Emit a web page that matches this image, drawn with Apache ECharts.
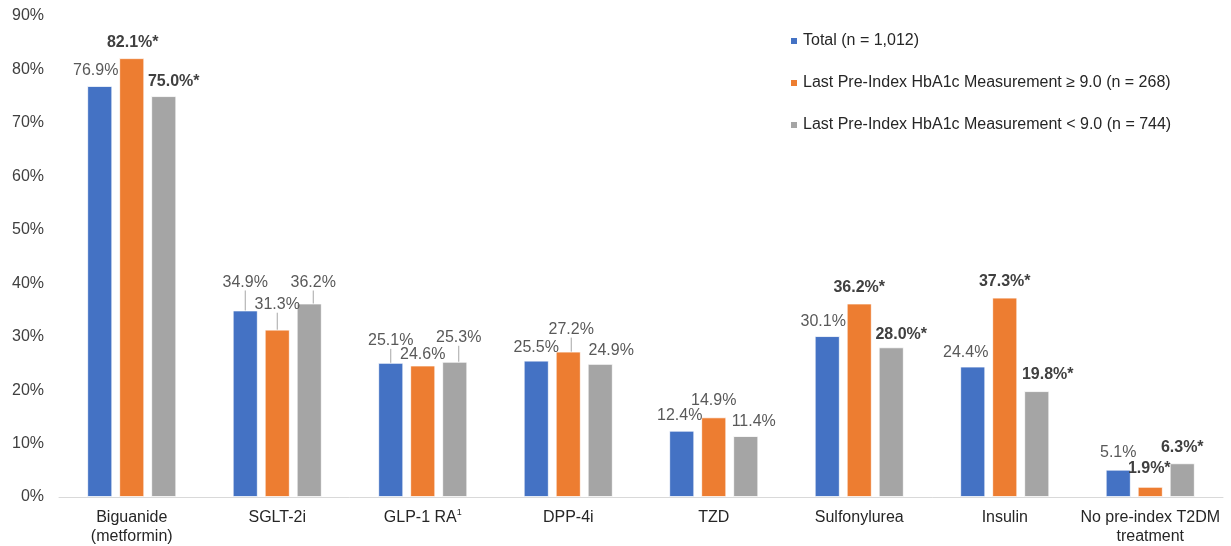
<!DOCTYPE html>
<html><head><meta charset="utf-8">
<script src="https://cdn.jsdelivr.net/npm/echarts@6/dist/echarts.min.js"></script>
<style>html,body{margin:0;padding:0;background:#fff}#c{width:1231px;height:546px}</style>
</head><body><div id="c"></div>
<script>
const categories = ['Biguanide\n(metformin)', 'SGLT-2i', 'GLP-1 RA', 'DPP-4i', 'TZD', 'Sulfonylurea', 'Insulin', 'No pre-index T2DM\ntreatment'];
const footnotes = ['', '', '1', '', '', '', '', ''];
const seriesNames = ['Total (n = 1,012)', 'Last Pre-Index HbA1c Measurement \u2265 9.0 (n = 268)', 'Last Pre-Index HbA1c Measurement < 9.0 (n = 744)'];
const totalValues = [76.9, 34.9, 25.1, 25.5, 12.4, 30.1, 24.4, 5.1];
const highValues = [82.1, 31.3, 24.6, 27.2, 14.9, 36.2, 37.3, 1.9];
const lowValues = [75.0, 36.2, 25.3, 24.9, 11.4, 28.0, 19.8, 6.3];
const totalSig = [0, 0, 0, 0, 0, 0, 0, 0];
const highSig = [1, 0, 0, 0, 0, 1, 1, 1];
const lowSig = [1, 0, 0, 0, 0, 1, 1, 1];
const yTicks = [0, 10, 20, 30, 40, 50, 60, 70, 80, 90];

// label layout tweaks (dx, dy) and leader-line flags
const labelShift = [
  [[-4,-2],[0,-15],[0,-9],[0,0],[-2,-2],[-4,-2],[-7,-1],[0,-4]],
  [[1,-3],[0,-12],[0,2],[3,-9],[0,-4],[0,-3],[0,-3],[-1,-5]],
  [[10,-2],[4,-8],[4,-11],[11,0],[8,-1],[10,0],[11,-4],[0,-3]]
];
const leader = [
  [0,1,1,0,0,0,0,0],
  [0,1,0,1,0,0,0,0],
  [0,1,1,0,0,0,0,0]
];
const colors = ['#4472C4', '#ED7D31', '#A5A5A5'];
const FONT = '"Liberation Sans", Arial, sans-serif';

function buildData(values, sig, si) {
  return values.map((v, i) => ({
    value: v,
    label: sig[i] ? { fontWeight: 'bold', color: '#404040' } : {},
    labelLine: { show: !!leader[si][i] }
  }));
}
const allVals = [totalValues, highValues, lowValues];
const allSig = [totalSig, highSig, lowSig];

const chart = echarts.init(document.getElementById('c'), null, { renderer: 'canvas' });
chart.setOption({
  animation: false,
  textStyle: { fontFamily: FONT },
  grid: { left: 59, right: 8, top: 16, bottom: 49, containLabel: false },
  legend: {
    orient: 'vertical', left: 784, top: 28,
    itemWidth: 8, itemHeight: 8, itemGap: 26,
    icon: 'rect',
    textStyle: { fontSize: 16, color: '#262626', fontFamily: FONT },
    data: seriesNames
  },
  xAxis: {
    type: 'category', data: categories,
    axisLine: { lineStyle: { color: '#D9D9D9', width: 1 } },
    axisTick: { show: false },
    axisLabel: {
      fontSize: 16, color: '#262626', lineHeight: 19, margin: 11, interval: 0,
      formatter: (v, i) => footnotes[i] ? v + '{sup|' + footnotes[i] + '}' : v,
      rich: { sup: { fontSize: 9, color: '#262626', verticalAlign: 'top', lineHeight: 19, padding: [0, 0, 8, 0] } }
    }
  },
  yAxis: {
    type: 'value', min: yTicks[0], max: yTicks[yTicks.length - 1], interval: 10,
    axisLine: { show: false }, axisTick: { show: false }, splitLine: { show: false },
    axisLabel: { fontSize: 16, color: '#404040', margin: 15, formatter: '{value}%' }
  },
  series: allVals.map((vals, si) => ({
    name: seriesNames[si],
    type: 'bar',
    barWidth: 25,
    barGap: '28%',
    itemStyle: { color: colors[si], borderColor: '#ffffff', borderWidth: 0.8 },
    label: {
      show: true, position: 'top', distance: 5,
      fontSize: 16, color: '#595959', fontFamily: FONT,
      formatter: p => p.value.toFixed(1) + '%' + (allSig[si][p.dataIndex] ? '*' : '')
    },
    labelLine: { show: false, lineStyle: { color: '#A6A6A6', width: 1 } },
    labelLayout: p => ({ dx: labelShift[si][p.dataIndex][0], dy: labelShift[si][p.dataIndex][1] }),
    data: buildData(vals, allSig[si], si)
  }))
});
</script></body></html>
